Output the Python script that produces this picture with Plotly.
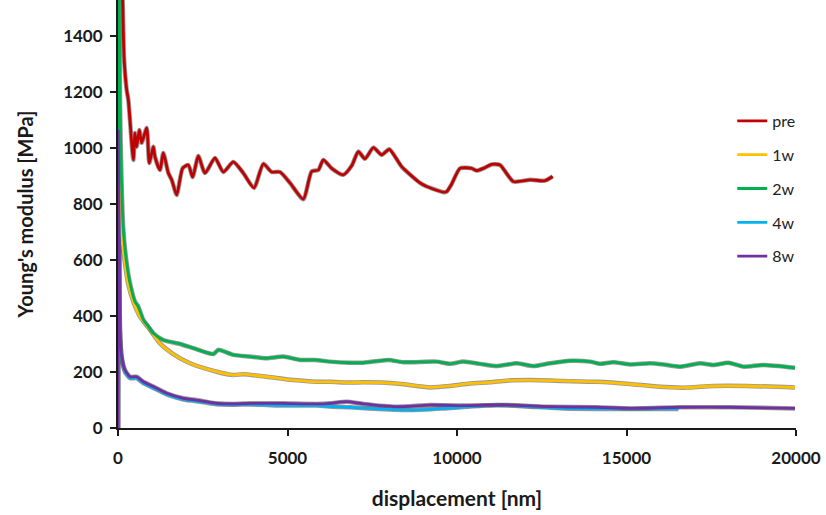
import plotly.graph_objects as go

# ---- data ----
pre_x = [60, 139, 177, 256, 305, 452, 501, 551, 630, 698, 846, 924, 1042, 1091, 1239, 1337, 1485, 1584, 1731,
         1908, 2075, 2203, 2370, 2566, 2861, 3107, 3402, 3697, 4012, 4287, 4533, 4779, 5074, 5467, 5713, 5910,
         6057, 6303, 6647, 6893, 7090, 7286, 7532, 7778, 8003, 8368, 8909, 9106, 9597, 9695, 9843, 10088, 10433,
         10580, 10777, 11023, 11268, 11661, 12153, 12595, 12822]
pre_y = [1800, 1520, 1325, 1207, 1171, 957, 1053, 1004, 1064, 1018, 1071, 946, 1004, 968, 921, 982, 910, 886, 832,
         928, 939, 896, 971, 910, 964, 914, 950, 910, 857, 943, 914, 914, 875, 817, 916, 921,
         957, 927, 904, 936, 987, 961, 1001, 975, 995, 933, 875, 862, 842, 844, 871, 927, 927,
         919, 927, 941, 939, 880, 886, 883, 898]

w1_x = [0, 10, 50, 90, 206, 305, 452, 649, 944, 1239, 1632, 2124, 2911, 3402, 3697, 4386, 5172, 5861, 6254, 6844,
        7237, 8220, 9204, 9794, 10383, 10973, 11465, 12153, 13136, 14120, 15103, 15890, 16677, 17562, 18545, 19970]
w1_y = [0, 1000, 850, 707, 588, 511, 451, 398, 350, 302, 264, 231, 201, 189, 192, 183, 171, 165, 165, 162,
        163, 159, 145, 150, 159, 163, 169, 171, 168, 165, 157, 148, 144, 150, 150, 145]

w2_x = [0, 20, 60, 100, 157, 256, 354, 501, 600, 747, 895, 1042, 1337, 1829, 2222, 2812, 2959, 3402, 3894, 4386,
        4877, 5369, 5800, 6254, 6844, 7237, 7975, 8417, 9401, 9794, 10187, 10678, 11170, 11760, 12252, 12743,
        13333, 13923, 14218, 14611, 15103, 15693, 16086, 16578, 17168, 17562, 18004, 18447, 19037, 19970]
w2_y = [0, 1800, 1150, 900, 707, 588, 517, 451, 433, 386, 362, 338, 314, 300, 285, 264, 279, 261, 255, 249,
        255, 243, 243, 237, 233, 233, 243, 235, 237, 229, 237, 229, 221, 231, 221, 231,
        240, 237, 229, 235, 227, 231, 227, 219, 231, 225, 233, 219, 225, 215]

w4_x = [0, 5, 40, 60, 108, 206, 354, 551, 747, 1042, 1436, 1928, 2419, 2911, 3402, 3894, 4386, 4877, 5861, 6351,
        6844, 7680, 8663, 9646, 11170, 12153, 13136, 14611, 16086, 16529]
w4_y = [0, 900, 600, 340, 250, 200, 178, 178, 160, 143, 120, 102, 94, 85, 83, 84, 82, 80, 80, 76,
        74, 68, 64, 70, 82, 76, 70, 68, 68, 68]

w8_x = [0, 3, 40, 60, 108, 206, 354, 551, 747, 1042, 1436, 1928, 2419, 2911, 3402, 3894, 4386, 4877, 5861, 6254,
        6746, 7237, 8220, 9204, 10187, 11465, 12645, 14120, 15103, 16578, 18053, 19970]
w8_y = [0, 1065, 640, 350, 255, 207, 183, 183, 165, 148, 124, 106, 98, 88, 86, 88, 88, 88, 86, 88,
        94, 86, 76, 82, 80, 82, 76, 74, 70, 74, 74, 70]

names = ["pre", "1w", "2w", "4w", "8w"]
colors = ["#C00000", "#FFC000", "#00B050", "#00B0F0", "#7030A0"]
xs = [pre_x, w1_x, w2_x, w4_x, w8_x]
ys = [pre_y, w1_y, w2_y, w4_y, w8_y]

x_ticks = [0, 5000, 10000, 15000, 20000]
y_ticks = [0, 200, 400, 600, 800, 1000, 1200, 1400]

fig = go.Figure()
# shadow outlines first
for x, y in zip(xs, ys):
    fig.add_trace(go.Scatter(x=x, y=y, mode="lines", showlegend=False, hoverinfo="skip",
                             line=dict(color="rgba(70,70,70,0.55)", width=4.5, shape="spline", smoothing=0.6)))
for n, c, x, y in zip(names, colors, xs, ys):
    fig.add_trace(go.Scatter(x=x, y=y, mode="lines", name=n, legendgroup=n,
                             line=dict(color=c, width=2.8, shape="spline", smoothing=0.6)))

fnt = "Lato, 'Open Sans', sans-serif"
fig.update_layout(
    width=826, height=515,
    margin=dict(l=118, r=30, t=0, b=87),
    paper_bgcolor="white", plot_bgcolor="white",
    font=dict(family=fnt, color="#1a1a1a"),
    legend=dict(x=0.906, y=0.757, xanchor="left", yanchor="top",
                font=dict(size=16, family=fnt, color="#222"),
                tracegroupgap=10, itemwidth=30, bgcolor="rgba(0,0,0,0)"),
    xaxis=dict(range=[0, 20000], tickvals=x_ticks, ticktext=[str(v) for v in x_ticks],
               automargin=False,
               showgrid=False, zeroline=False, showline=True, linecolor="#1a1a1a", linewidth=2,
               ticks="outside", ticklen=6, tickwidth=2, tickcolor="#1a1a1a",
               tickfont=dict(size=17, family=fnt, weight="bold"),
               ticklabelstandoff=8,
               title=dict(text="<b>displacement [nm]</b>", font=dict(size=21, family=fnt), standoff=24)),
    yaxis=dict(range=[0, 1528], tickvals=y_ticks, ticktext=[str(v) for v in y_ticks],
               automargin=False,
               showgrid=False, zeroline=False, showline=True, linecolor="#1a1a1a", linewidth=2,
               ticks="outside", ticklen=6, tickwidth=2, tickcolor="#1a1a1a",
               tickfont=dict(size=17, family=fnt, weight="bold"),
               ticklabelstandoff=4,
               title=dict(text="<b>Young's modulus [MPa]</b>", font=dict(size=20, family=fnt), standoff=24)),
)

fig.write_html("out.html", config={"displayModeBar": False},
               post_script="document.body.style.margin='0';document.body.style.overflow='hidden';")
